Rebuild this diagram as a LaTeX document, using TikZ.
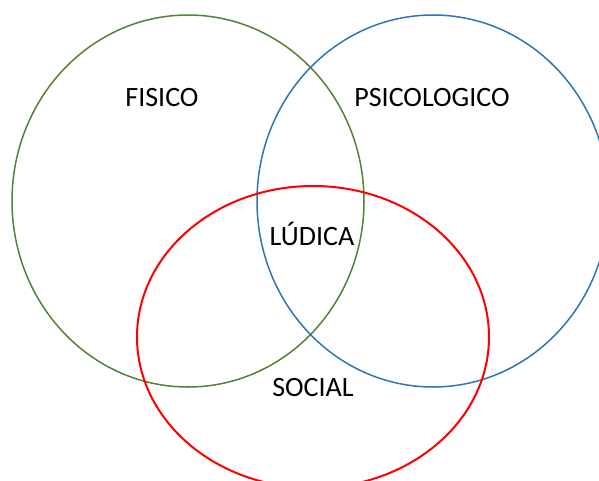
\documentclass[tikz,border=0pt]{standalone}
\usepackage{fontspec}
\setmainfont{Carlito}
\definecolor{fisgreen}{RGB}{84,130,53}
\definecolor{psiblue}{RGB}{46,117,182}
\begin{document}
\begin{tikzpicture}[x=1pt, y=-1pt, every node/.style={font=\fontsize{28}{32}\selectfont, anchor=base}]
                \useasboundingbox (0,0) rectangle (599,481);
                \clip (0,0) rectangle (599,481);
                \draw[fisgreen, line width=1.5pt] (188,201) ellipse (176 and 186);
                \draw[psiblue, line width=1.5pt] (433,201) ellipse (176 and 186);
                \draw[red, line width=2pt] (313,337) ellipse (176 and 151);

                \node (fisico) at (162,107) {FISICO};
                \node (psico) at (432,107) {PSICOLOGICO};
                \node (ludica) at (312,245) {LÚDICA};
                \node (social) at (313,396) {SOCIAL};
            \end{tikzpicture}
\end{document}
